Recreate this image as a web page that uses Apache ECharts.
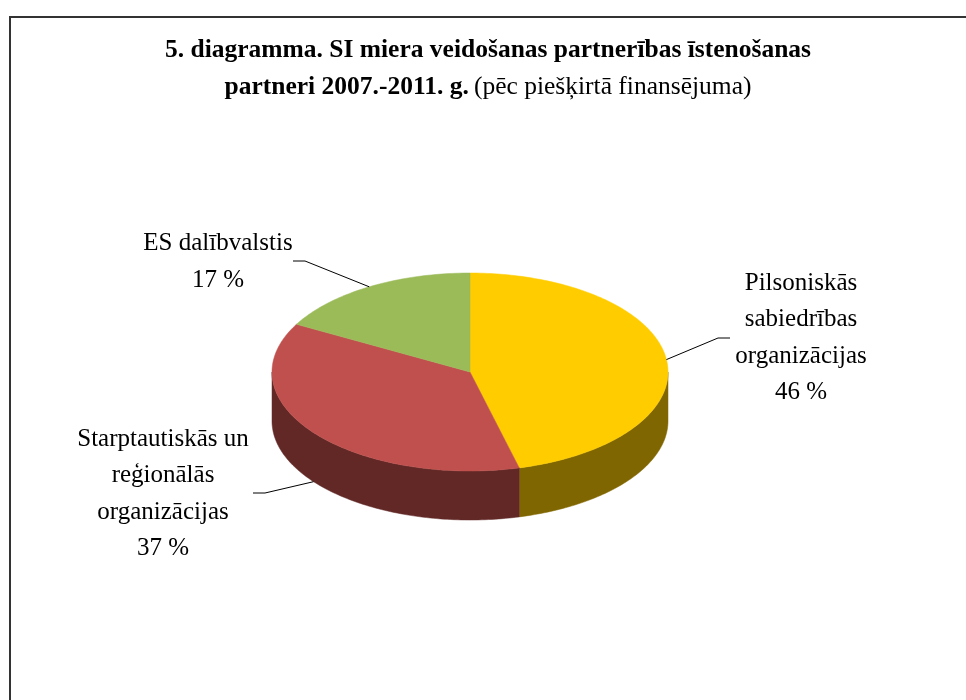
<!DOCTYPE html>
<html>
<head>
<meta charset="utf-8">
<script src="https://cdn.jsdelivr.net/npm/echarts@6/dist/echarts.min.js"></script>
<style>
  html, body { margin: 0; padding: 0; background: #fff; }
  #chart { width: 966px; height: 700px; }
</style>
</head>
<body>
<div id="chart"></div>
<script>
// data
const categories = ['Pilsoniskās\nsabiedrības\norganizācijas', 'Starptautiskās un\nreģionālās\norganizācijas', 'ES dalībvalstis']
const shares = [46, 37, 17]

// styles
const topColors = ['#FFCC00', '#C0504D', '#9BBB59']
const sideColors = ['#806600', '#612826', '#4F5F2D']
const fontFamily = "'Liberation Serif', 'Times New Roman', serif"

// pie geometry (3d look: squashed disc with a wall)
const pie = { cx: 470, cy: 372, rx: 198, ry: 99, depth: 49 }

// label placement: text centre, leader elbow and end
const labelBoxes = [
  { x: 801, y: 338, elbow: [718, 338], end: [730, 338] },
  { x: 163, y: 494, elbow: [265, 493], end: [253, 493] },
  { x: 218, y: 262, elbow: [305, 261], end: [293, 261] }
]

const total = shares.reduce((a, b) => a + b, 0)

// point on the top ellipse, angle in degrees clockwise from 12 o'clock
const pt = (deg, dy = 0) => {
  const r = deg * Math.PI / 180
  return [pie.cx + pie.rx * Math.sin(r), pie.cy - pie.ry * Math.cos(r) + dy]
}

const renderItem = (params, api) => {
  const i = params.dataIndex
  const before = shares.slice(0, i).reduce((a, b) => a + b, 0)
  const a0 = before / total * 360
  const a1 = (before + shares[i]) / total * 360
  const children = []

  // front wall (visible between 90 and 270 deg)
  const s = Math.max(a0, 90)
  const e = Math.min(a1, 270)
  if (e > s) {
    const upper = []
    const lower = []
    for (let t = s; t < e; t += 1) {
      upper.push(pt(t))
      lower.push(pt(t, pie.depth))
    }
    upper.push(pt(e))
    lower.push(pt(e, pie.depth))
    children.push({
      type: 'polygon',
      shape: { points: upper.concat(lower.reverse()) },
      style: { fill: sideColors[i], stroke: sideColors[i], lineWidth: 0.5 }
    })
  }

  // top face
  const face = [[pie.cx, pie.cy]]
  for (let t = a0; t < a1; t += 1) face.push(pt(t))
  face.push(pt(a1))
  children.push({
    type: 'polygon',
    shape: { points: face },
    style: { fill: topColors[i], stroke: topColors[i], lineWidth: 0.5 }
  })

  // leader line from the middle of the slice
  const mid = (a0 + a1) / 2
  const onWall = mid > 180 && mid < 270
  const anchor = pt(mid, onWall ? pie.depth : 0)
  const box = labelBoxes[i]
  children.push({
    type: 'polyline',
    shape: { points: [anchor, box.elbow, box.end] },
    style: { stroke: '#000', lineWidth: 1, fill: null }
  })

  children.push({
    type: 'text',
    style: {
      x: box.x,
      y: box.y,
      text: categories[i] + '\n' + api.value(0) + ' %',
      align: 'center',
      verticalAlign: 'middle',
      font: '25px ' + fontFamily,
      lineHeight: 36.5,
      fill: '#000'
    }
  })

  return { type: 'group', children }
}

const chart = echarts.init(document.getElementById('chart'))
chart.setOption({
  backgroundColor: '#fff',
  animation: false,
  title: {
    text: '{b|5. diagramma. SI miera veidošanas partnerības īstenošanas}\n{b|partneri 2007.-2011. g.} {n|(pēc piešķirtā finansējuma)}',
    left: 483,
    top: 27,
    textAlign: 'center',
    textStyle: {
      rich: {
        b: { fontFamily, fontWeight: 'bold', fontSize: 25.5, lineHeight: 37, color: '#000' },
        n: { fontFamily, fontWeight: 'normal', fontSize: 25.5, lineHeight: 37, color: '#000' }
      }
    }
  },
  graphic: [{
    type: 'rect',
    shape: { x: 10, y: 17, width: 1000, height: 1000 },
    style: { fill: null, stroke: '#333', lineWidth: 2 },
    silent: true
  }],
  series: [{
    type: 'custom',
    coordinateSystem: 'none',
    data: shares.map((v, i) => ({ value: v, name: categories[i] })),
    renderItem
  }]
})
</script>
</body>
</html>
